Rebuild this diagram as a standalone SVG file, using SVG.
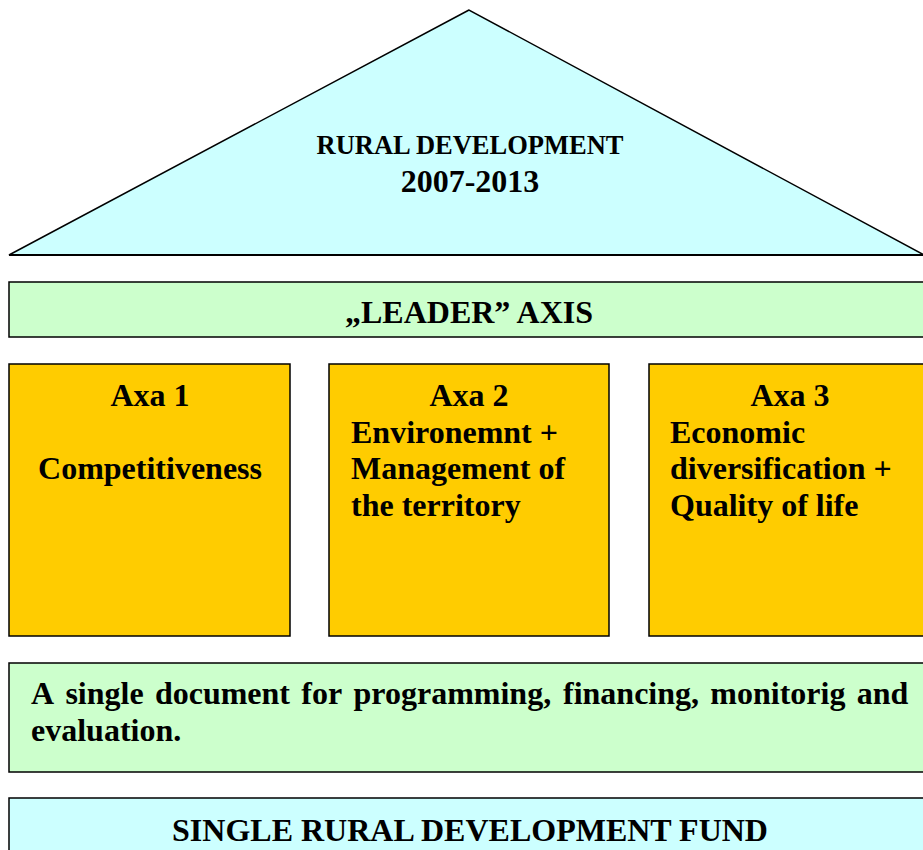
<svg xmlns="http://www.w3.org/2000/svg" width="923" height="850" viewBox="0 0 923 850">
<style>
.sh{stroke:#000;stroke-width:1.5}
.cyan{fill:#CCFFFF}
.green{fill:#CCFFCC}
.gold{fill:#FFCC00}
text{font-family:"Liberation Serif","Times New Roman",serif;font-weight:bold;fill:#000;font-size:32px}
.c{text-anchor:middle}
</style>
<rect width="923" height="850" fill="#fff"/>
<g id="roof">
<polygon class="sh cyan" points="469,10 9,255 924,255"/>
<line x1="9" y1="255" x2="924" y2="255" stroke="#000" stroke-width="2.2"/>
<text class="c" x="470" y="154" style="font-size:26.5px">RURAL DEVELOPMENT</text>
<text class="c" x="470" y="192">2007-2013</text>
</g>
<g id="leader">
<rect class="sh green" x="9" y="282" width="920" height="55"/>
<text class="c" x="469" y="323">„LEADER” AXIS</text>
</g>
<g id="axa1">
<rect class="sh gold" x="9" y="364" width="281" height="272"/>
<text class="c" x="150" y="406">Axa 1</text>
<text class="c" x="150" y="479">Competitiveness</text>
</g>
<g id="axa2">
<rect class="sh gold" x="329" y="364" width="280" height="272"/>
<text class="c" x="469" y="406">Axa 2</text>
<text x="351" y="443">Environemnt +</text>
<text x="351" y="479">Management of</text>
<text x="351" y="516">the territory</text>
</g>
<g id="axa3">
<rect class="sh gold" x="649" y="364" width="280" height="272"/>
<text class="c" x="790" y="406">Axa 3</text>
<text x="670" y="443">Economic</text>
<text x="670" y="479">diversification +</text>
<text x="670" y="516">Quality of life</text>
</g>
<g id="document">
<rect class="sh green" x="9" y="663" width="920" height="109"/>
<text y="704"><tspan x="31">A</tspan><tspan x="65.4">single</tspan><tspan x="154.9">document</tspan><tspan x="301.3">for</tspan><tspan x="353.5">programming,</tspan><tspan x="563">financing,</tspan><tspan x="710.3">monitorig</tspan><tspan x="856.7">and</tspan></text>
<text x="31" y="741">evaluation.</text>
</g>
<g id="fund">
<rect class="sh cyan" x="9" y="798" width="920" height="60"/>
<text class="c" x="470" y="841">SINGLE RURAL DEVELOPMENT FUND</text>
</g>
<g id="connectors"></g>
</svg>
